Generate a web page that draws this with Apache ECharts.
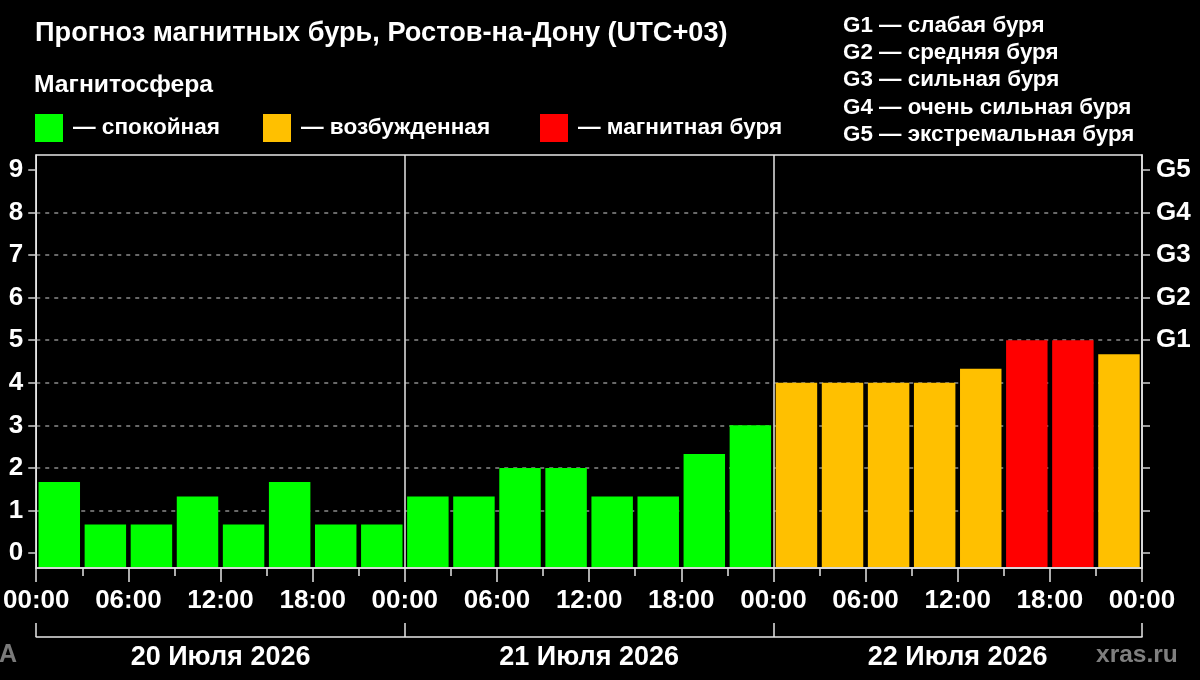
<!DOCTYPE html>
<html>
<head>
<meta charset="utf-8">
<script src="https://cdn.jsdelivr.net/npm/echarts@6/dist/echarts.min.js"></script>
<style>
    html, body { margin: 0; padding: 0; background: #000; }
    #chart { width: 1200px; height: 680px; }
</style>
</head>
<body>
<div id="chart"></div>
<script>
// Kp по трёхчасовым интервалам, 3 суток
const kpValues = [
    1.67, 0.67, 0.67, 1.33, 0.67, 1.67, 0.67, 0.67,
    1.33, 1.33, 2, 2, 1.33, 1.33, 2.33, 3,
    4, 4, 4, 4, 4.33, 5, 5, 4.67
];
const slotHours = 3;
const dayLabels = ['20 Июля 2026', '21 Июля 2026', '22 Июля 2026'];
const dayBreaks = [24, 48];
const kpTicks = [0, 1, 2, 3, 4, 5, 6, 7, 8, 9];
const stormTicks = [5, 6, 7, 8, 9];
const stormLabels = ['G1', 'G2', 'G3', 'G4', 'G5'];
const stormNames = [
    'G1 — слабая буря',
    'G2 — средняя буря',
    'G3 — сильная буря',
    'G4 — очень сильная буря',
    'G5 — экстремальная буря'
];
const levelNames = ['— спокойная', '— возбужденная', '— магнитная буря'];
const levelColors = ['#00ff00', '#ffc000', '#ff0000'];
const legendLefts = [35, 263, 540];

const FONT = '"Liberation Sans", Arial, sans-serif';

function levelOf(kp) {
    if (kp >= 5) return 2;
    if (kp >= 4) return 1;
    return 0;
}

let barData = kpValues.map(function(v, i) {
    return [i * slotHours, (i + 1) * slotHours, v, levelOf(v)];
});

function renderItem(params, api) {
    var pad = 0.15;
    var start = api.coord([api.value(0) + pad, api.value(2)]);
    var end = api.coord([api.value(1) - pad, api.value(2)]);
    var bottom = params.coordSys.y + params.coordSys.height;
    return {
        type: 'rect',
        shape: {
            x: start[0],
            y: start[1],
            width: end[0] - start[0],
            height: bottom - start[1] - 1
        },
        style: { fill: levelColors[api.value(3)] }
    };
}

let white = '#ffffff';
let lineCol = '#e6e6e6';
let txt = function(size, color) {
    return { color: color || white, fontFamily: FONT, fontWeight: 'bold', fontSize: size };
};

let series = [{
    type: 'custom',
    renderItem: renderItem,
    encode: { x: [0, 1], y: 2 },
    data: barData,
    silent: true,
    zlevel: 1,
    markLine: {
        silent: true,
        symbol: 'none',
        label: { show: false },
        lineStyle: { color: lineCol, width: 1.5, type: 'solid' },
        data: dayBreaks.map(function(h) { return { xAxis: h }; })
    }
}];
// пустые серии только для легенды
levelNames.forEach(function(name, i) {
    series.push({ type: 'bar', name: name, data: [], itemStyle: { color: levelColors[i] } });
});

let legends = levelNames.map(function(name, i) {
    return {
        left: legendLefts[i],
        top: 114,
        padding: 0,
        icon: 'rect',
        itemWidth: 28,
        itemHeight: 28,
        selectedMode: false,
        data: [name],
        textStyle: Object.assign(txt(22.6), { padding: [0, 0, 0, 5] })
    };
});

let option = {
    backgroundColor: '#000',
    animation: false,
    title: [
        { text: 'Прогноз магнитных бурь, Ростов-на-Дону (UTC+03)', left: 35, top: 20, padding: 0, textStyle: txt(27.2) },
        { text: 'Магнитосфера', left: 34, top: 73, padding: 0, textStyle: txt(24.7) },
        { text: stormNames.join('\n'), left: 843, top: 12, padding: 0, textStyle: Object.assign(txt(22.4), { lineHeight: 27.3 }) },
        { text: 'A', left: -1, top: 643, padding: 0, textStyle: txt(25, '#7a7a7a') },
        { text: 'xras.ru', left: 1096, top: 643, padding: 0, textStyle: txt(24.5, '#7f7f7f') }
    ],
    legend: legends,
    grid: {
        left: 36,
        right: 58,
        top: 155,
        bottom: 112,
        show: true,
        borderColor: lineCol,
        borderWidth: 1.5,
        backgroundColor: 'transparent'
    },
    xAxis: [{
        type: 'value',
        min: 0,
        max: 72,
        interval: 6,
        axisLine: { show: true, onZero: false, lineStyle: { color: lineCol, width: 1.5 } },
        axisTick: { show: true, length: 14, lineStyle: { color: lineCol, width: 1.5 } },
        minorTick: { show: true, splitNumber: 2, length: 8, lineStyle: { color: lineCol, width: 1.5 } },
        splitLine: { show: false },
        axisLabel: Object.assign(txt(26), {
            margin: 20,
            showMinLabel: true,
            showMaxLabel: true,
            formatter: function(v) {
                var h = v % 24;
                return (h < 10 ? '0' + h : h) + ':00';
            }
        })
    }, {
        type: 'category',
        position: 'bottom',
        offset: 69,
        data: dayLabels,
        boundaryGap: true,
        axisLine: { show: true, onZero: false, lineStyle: { color: lineCol, width: 1.5 } },
        axisTick: { show: true, inside: true, length: 14, lineStyle: { color: lineCol, width: 1.5 } },
        axisLabel: Object.assign(txt(27), { margin: 7 }),
        splitLine: { show: false }
    }],
    yAxis: [{
        type: 'value',
        position: 'left',
        min: -0.35,
        max: 9.35,
        splitNumber: 10,
        axisLine: { show: true, lineStyle: { color: lineCol, width: 1.5 } },
        axisTick: { show: true, length: 8, customValues: kpTicks, lineStyle: { color: '#d0d0d0', width: 1.5 } },
        axisLabel: Object.assign(txt(26), { margin: 13, customValues: kpTicks }),
        splitLine: {
            show: true,
            showMinLine: false,
            showMaxLine: false,
            lineStyle: { color: '#8a8a8a', width: 1.5, type: [4, 5] }
        }
    }, {
        type: 'value',
        position: 'right',
        min: -0.35,
        max: 9.35,
        splitNumber: 10,
        axisLine: { show: true, lineStyle: { color: lineCol, width: 1.5 } },
        axisTick: { show: true, length: 8, customValues: kpTicks, lineStyle: { color: '#d0d0d0', width: 1.5 } },
        axisLabel: Object.assign(txt(26), {
            margin: 14,
            customValues: stormTicks,
            formatter: function(v) { return stormLabels[v - 5]; }
        }),
        splitLine: { show: false }
    }],
    series: series
};

let myChart = echarts.init(document.getElementById('chart'));
myChart.setOption(option);
</script>
</body>
</html>
